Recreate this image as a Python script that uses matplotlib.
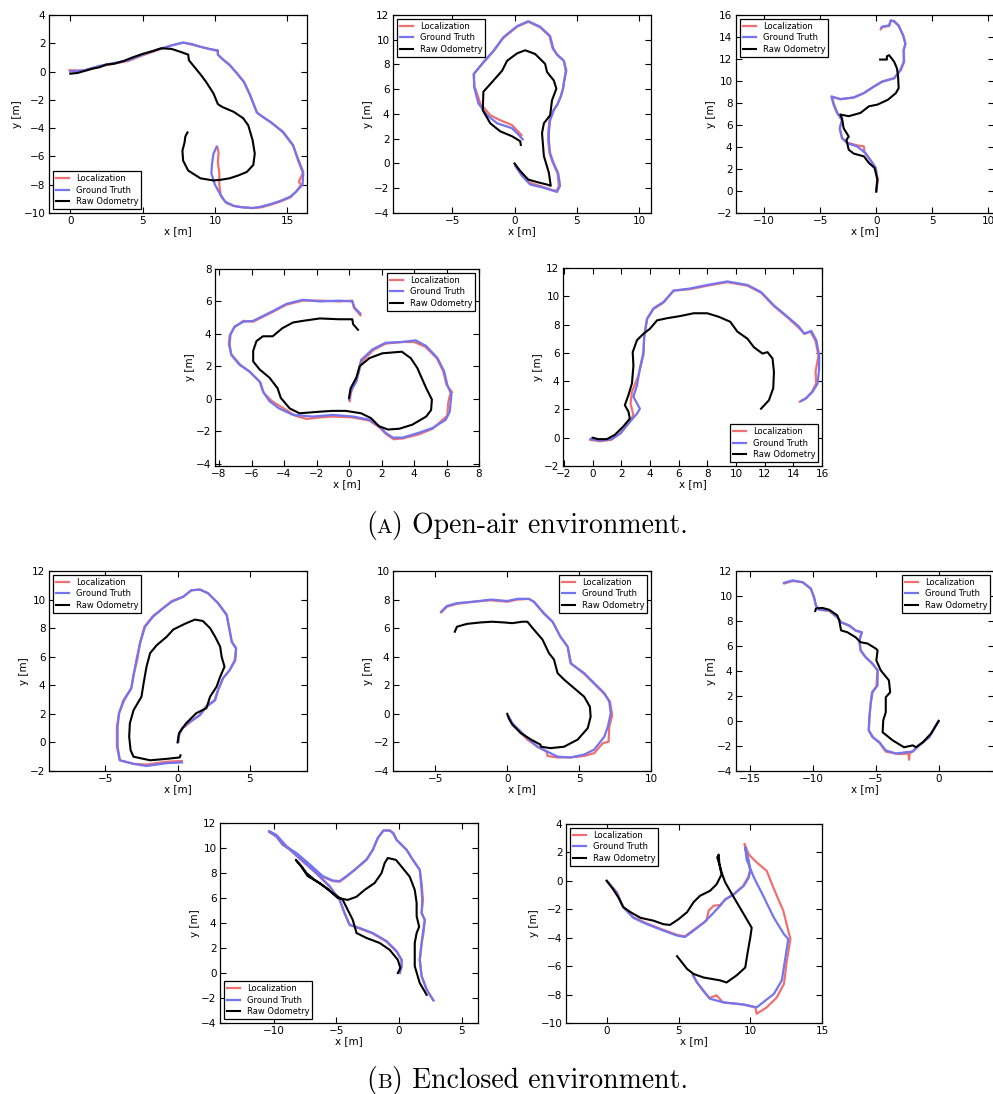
import matplotlib
matplotlib.use('Agg')
import matplotlib.pyplot as plt
import numpy as np

W, H = 993, 1094

# ---------------- data (x, y) in metres ----------------
# (A) open-air, panel 1
p1_loc = [(-0.05, 0.1), (1, 0.05), (2, 0.35), (3, 0.55), (4, 0.75), (5, 1.15), (6, 1.5), (7, 1.85), (7.8, 2.05),
          (8.4, 1.9), (9, 1.75), (9.6, 1.6), (10.2, 1.45), (10.2, 1.2), (10.5, 0.9), (11, 0.45), (11.5, -0.1),
          (12, -0.7), (12.4, -1.6), (12.9, -2.9), (13.3, -3.2), (13.9, -3.6), (14.7, -4.3), (15.4, -5.25),
          (15.8, -6.3), (16.1, -7.1), (15.8, -7.8), (15.95, -8.0), (15.6, -8.5), (15.2, -8.9), (14.5, -9.2),
          (13.9, -9.4), (13.2, -9.6), (12.6, -9.65), (11.9, -9.6), (11.3, -9.5), (10.8, -9.3), (10.4, -8.8),
          (10.3, -8.0), (10.3, -7.2), (10.2, -6.4), (10.25, -5.7), (10.15, -5.3)]
p1_gt = [(0, 0), (1, 0.1), (2, 0.4), (3, 0.6), (4, 0.8), (5, 1.2), (6, 1.55), (7, 1.85), (7.8, 2.05), (8.4, 1.95),
         (9, 1.75), (9.6, 1.6), (10.2, 1.5), (10.2, 1.2), (10.5, 0.9), (11, 0.5), (11.5, -0.1), (12, -0.75),
         (12.4, -1.6), (12.9, -2.9), (13.3, -3.2), (13.8, -3.55), (14.7, -4.25), (15.4, -5.2), (15.75, -6.3),
         (16.1, -7.2), (16.05, -8.0), (15.6, -8.5), (15.2, -8.85), (14.5, -9.15), (13.9, -9.35), (13.2, -9.55),
         (12.6, -9.65), (11.9, -9.6), (11.3, -9.5), (10.7, -9.2), (10.35, -8.65), (10.0, -8.0), (9.75, -7.2),
         (9.8, -6.5), (9.9, -5.8), (10.1, -5.35)]
p1_odo = [(0, -0.15), (0.5, -0.1), (1, 0.05), (1.5, 0.2), (2, 0.3), (2.5, 0.5), (3, 0.55), (3.7, 0.75), (4.3, 1.0),
          (5, 1.25), (5.7, 1.45), (6.3, 1.65), (7, 1.6), (7.6, 1.4), (8.15, 1.2), (8.2, 0.8), (8.6, 0.3),
          (9.0, -0.2), (9.4, -0.75), (9.9, -1.55), (10.2, -2.3), (10.5, -2.5), (11.3, -2.85), (11.95, -3.3),
          (12.3, -3.8), (12.6, -4.85), (12.75, -5.8), (12.65, -6.6), (12.2, -7.1), (11.6, -7.35), (11.0, -7.55),
          (10.4, -7.65), (9.9, -7.7), (9.0, -7.55), (8.15, -7.0), (7.8, -6.3), (7.75, -5.6), (7.9, -5.0),
          (7.95, -4.6), (8.1, -4.3)]

# panel 2
p2_loc = [(0.05, -0.1), (0.55, -0.9), (1.2, -1.55), (2.3, -1.9), (3.05, -2.15), (3.4, -2.2), (3.55, -1.8),
          (3.45, -0.8), (3.05, 0.1), (2.8, 0.85), (2.7, 1.8), (2.7, 2.5), (2.8, 3.5), (3.1, 4.3), (3.45, 4.8),
          (3.7, 5.4), (3.9, 6.1), (3.95, 6.5), (4.1, 7.5), (3.95, 8.3), (3.4, 8.8), (3.05, 9.3), (2.8, 10.3),
          (2.05, 11.0), (1.1, 11.45), (0.2, 11.05), (-0.9, 10.15), (-1.7, 9.05), (-2.5, 8.15), (-3.3, 7.2),
          (-3.2, 6.2), (-2.75, 4.85), (-1.95, 3.9), (-1.15, 3.5), (-0.2, 3.1), (0.55, 2.3)]
p2_gt = [(0.05, -0.2), (0.6, -1.0), (1.25, -1.7), (2.3, -1.95), (3.1, -2.2), (3.4, -2.3), (3.65, -1.8),
         (3.5, -0.8), (3.1, 0.1), (2.85, 0.85), (2.75, 1.8), (2.75, 2.5), (2.85, 3.5), (3.15, 4.3), (3.45, 4.8),
         (3.7, 5.4), (3.9, 6.1), (3.95, 6.5), (4.15, 7.5), (3.95, 8.3), (3.4, 8.8), (3.1, 9.3), (2.85, 10.3),
         (2.05, 11.05), (1.1, 11.5), (0.2, 11.1), (-0.9, 10.2), (-1.7, 9.1), (-2.5, 8.2), (-3.25, 7.25),
         (-3.25, 6.2), (-2.9, 4.85), (-2.2, 3.9), (-1.4, 3.25), (-0.2, 2.85), (0.35, 2.3), (0.65, 1.95)]
p2_odo = [(0, 0), (0.45, -0.6), (1.1, -1.3), (1.8, -1.5), (2.6, -1.7), (2.9, -1.8), (2.75, -0.75), (2.35, 0.6),
          (2.2, 2.45), (2.35, 3.25), (2.85, 3.9), (3.0, 5.1), (3.35, 6.05), (3.15, 6.7), (2.6, 7.4), (2.45, 8.05),
          (1.65, 8.85), (0.85, 9.15), (0.2, 8.9), (-0.6, 8.3), (-1.0, 7.5), (-1.7, 6.7), (-2.5, 5.8), (-2.55, 4.3),
          (-1.95, 3.25), (-1.15, 2.6), (-0.2, 2.2), (0.45, 1.8), (0.5, 1.5)]

# panel 3
p3_loc = [(0, -0.05), (0.15, 1.05), (-0.05, 2.1), (-0.35, 2.6), (-1.05, 3.5), (-1.1, 4.05), (-1.7, 4.15),
          (-2.6, 4.4), (-3.05, 4.85), (-3.25, 5.7), (-3.05, 6.45), (-3.45, 7.1), (-3.75, 7.85), (-3.95, 8.55),
          (-3.2, 8.35), (-2.0, 8.5), (-1.1, 8.9), (-0.2, 9.5), (0.55, 9.95), (1.6, 10.25), (2.2, 11.0),
          (2.5, 11.75), (2.45, 12.8), (2.6, 13.4), (2.4, 14.15), (2.0, 15.0), (1.6, 15.4), (1.3, 15.5),
          (1.15, 15.0), (0.55, 14.9), (0.4, 14.7)]
p3_gt = [(0, 0), (0.1, 1.05), (-0.05, 2.1), (-0.35, 2.55), (-0.95, 3.45), (-1.7, 4.05), (-2.6, 4.35),
         (-3.05, 4.8), (-3.25, 5.7), (-3.05, 6.45), (-3.5, 7.1), (-3.8, 7.85), (-4.0, 8.6), (-3.2, 8.35),
         (-2.0, 8.5), (-1.1, 8.9), (-0.2, 9.5), (0.55, 9.95), (1.6, 10.25), (2.15, 11.0), (2.45, 11.75),
         (2.45, 12.8), (2.6, 13.4), (2.4, 14.15), (2.0, 15.05), (1.6, 15.45), (1.3, 15.5), (1.15, 15.05),
         (0.55, 14.95), (0.45, 14.85)]
p3_odo = [(0, -0.05), (0.1, 1.05), (-0.15, 2.1), (-0.65, 2.55), (-1.1, 3.15), (-2.0, 3.4), (-2.45, 3.75),
          (-2.65, 4.65), (-2.45, 4.95), (-2.9, 5.7), (-3.05, 6.6), (-3.2, 6.95), (-2.45, 6.8), (-1.4, 7.1),
          (-0.65, 7.7), (0.1, 7.85), (1.05, 8.3), (1.75, 8.9), (2.0, 9.35), (1.95, 10.4), (1.85, 11.15),
          (1.6, 11.75), (1.15, 12.35), (0.95, 12.25), (0.95, 11.95), (0.35, 11.95)]

# panel 4
p4_loc = [(0.7, 5.15), (0.3, 5.6), (0.2, 6.05), (-0.6, 6.0), (-1.8, 6.05), (-2.85, 6.05), (-3.85, 5.8),
          (-4.7, 5.35), (-5.5, 4.95), (-5.9, 4.75), (-6.5, 4.8), (-7.05, 4.4), (-7.35, 3.9), (-7.4, 3.35),
          (-7.25, 2.75), (-6.7, 2.1), (-6.1, 1.65), (-5.45, 1.0), (-5.25, 0.35), (-4.75, -0.15), (-4.1, -0.55),
          (-3.3, -1.05), (-2.6, -1.25), (-1.8, -1.15), (-1.0, -1.1), (0.2, -1.15), (1.25, -1.35), (1.85, -1.75),
          (2.3, -2.2), (2.75, -2.5), (3.3, -2.45), (4.3, -2.2), (5.15, -1.85), (6.05, -1.05), (6.1, -0.3),
          (6.2, 0.2), (6.35, 0.4), (6.0, 0.85), (5.8, 1.7), (5.4, 2.5), (4.7, 3.2), (4.0, 3.5), (3.3, 3.5),
          (2.25, 3.4), (1.5, 3.0), (0.7, 2.2), (0.6, 1.6), (0.3, 0.9), (0.1, 0.3), (0.05, -0.15)]
p4_gt = [(0.7, 5.25), (0.35, 5.6), (0.2, 6.0), (-0.6, 6.05), (-1.8, 6.0), (-2.85, 6.1), (-3.85, 5.85),
         (-4.7, 5.4), (-5.5, 5.0), (-5.9, 4.8), (-6.5, 4.75), (-7.05, 4.45), (-7.3, 3.95), (-7.35, 3.35),
         (-7.25, 2.7), (-6.75, 2.1), (-6.15, 1.7), (-5.5, 1.05), (-5.3, 0.45), (-4.9, -0.15), (-4.3, -0.6),
         (-3.45, -1.0), (-2.25, -1.1), (-1.0, -1.0), (0.25, -1.1), (1.25, -1.3), (1.85, -1.7), (2.25, -2.1),
         (2.7, -2.4), (3.3, -2.4), (4.3, -2.1), (5.15, -1.8), (5.95, -1.3), (6.2, -0.8), (6.3, 0.25),
         (6.05, 0.85), (5.85, 1.7), (5.45, 2.5), (4.75, 3.25), (4.1, 3.6), (3.3, 3.5), (2.25, 3.45),
         (1.45, 3.05), (0.75, 2.4), (0.65, 1.9), (0.45, 1.05), (0.1, 0.45), (0, -0.05)]
p4_odo = [(0.55, 4.25), (0.25, 4.6), (0.2, 4.9), (-0.6, 4.9), (-1.8, 4.95), (-2.85, 4.8), (-3.45, 4.7),
          (-4.1, 4.35), (-4.7, 3.85), (-5.3, 3.85), (-5.7, 3.55), (-5.9, 2.95), (-5.9, 2.3), (-5.5, 1.8),
          (-4.9, 1.3), (-4.4, 0.65), (-4.2, 0.05), (-3.65, -0.6), (-3.05, -0.9), (-1.8, -0.8), (-1.0, -0.75),
          (-0.2, -0.75), (0.75, -0.9), (1.35, -1.2), (1.85, -1.7), (2.4, -1.9), (3.1, -1.85), (3.9, -1.6),
          (4.75, -1.1), (5.05, -0.7), (5.1, -0.05), (4.75, 0.65), (4.2, 1.9), (3.8, 2.5), (3.25, 2.9),
          (2.05, 2.8), (1.25, 2.5), (0.65, 2.0), (0.45, 1.3), (0.1, 0.65), (0, 0.05)]

# panel 5
p5_loc = [(-0.15, -0.15), (0.5, -0.25), (1.3, -0.15), (1.9, 0.3), (2.5, 1.0), (2.85, 1.6), (2.65, 2.4),
          (2.75, 3.25), (3.2, 4.4), (3.55, 5.85), (3.6, 7.1), (3.8, 8.4), (4.25, 9.1), (4.95, 9.55), (5.65, 10.4),
          (6.8, 10.5), (8.0, 10.75), (9.4, 11.0), (10.8, 10.75), (11.75, 10.25), (12.65, 9.3), (13.6, 8.5),
          (14.4, 7.75), (14.8, 7.35), (15.2, 7.5), (15.55, 6.85), (15.75, 5.8), (15.55, 4.65), (15.6, 3.85),
          (15.3, 3.25), (14.85, 2.75), (14.45, 2.55)]
p5_gt = [(-0.15, -0.1), (0.5, -0.2), (1.35, -0.1), (1.95, 0.3), (2.5, 1.0), (3.1, 1.7), (3.3, 2.05), (2.85, 2.9),
         (3.1, 3.7), (3.3, 4.9), (3.55, 6.05), (3.6, 7.15), (3.8, 8.4), (4.25, 9.15), (4.95, 9.6), (5.65, 10.4),
         (6.8, 10.55), (8.0, 10.8), (9.4, 11.05), (10.8, 10.8), (11.75, 10.3), (12.65, 9.35), (13.6, 8.55),
         (14.4, 7.85), (14.75, 7.35), (15.25, 7.55), (15.6, 6.9), (15.8, 5.85), (15.8, 4.9), (15.7, 3.85),
         (15.35, 3.25), (14.9, 2.8), (14.55, 2.6)]
p5_odo = [(0, 0), (0.4, -0.1), (1.0, -0.1), (1.55, 0.2), (2.15, 0.8), (2.6, 1.35), (2.5, 1.85), (2.25, 2.3),
          (2.5, 3.0), (2.75, 3.85), (2.85, 5.1), (2.8, 6.05), (3.1, 6.9), (3.55, 7.35), (4.0, 7.7), (4.5, 8.3),
          (5.2, 8.45), (6.1, 8.6), (7.05, 8.8), (8.0, 8.8), (8.8, 8.55), (9.6, 8.2), (10.1, 7.5), (10.8, 7.0),
          (11.25, 6.4), (11.85, 5.95), (12.2, 6.05), (12.55, 5.6), (12.65, 4.65), (12.6, 3.5), (12.3, 2.65),
          (11.75, 2.05)]

# (B) enclosed, panel 6
p6_loc = [(0.3, -1.3), (-0.75, -1.35), (-2.1, -1.55), (-3.05, -1.5), (-4.0, -1.25), (-4.2, -0.3), (-4.2, 1.1),
          (-4.05, 2.05), (-3.75, 2.95), (-3.2, 3.8), (-3.05, 4.7), (-2.8, 5.75), (-2.6, 6.95), (-2.3, 8.1),
          (-1.7, 8.85), (-1.0, 9.4), (-0.4, 9.9), (0.4, 10.2), (0.95, 10.65), (1.55, 10.7), (2.1, 10.45),
          (2.8, 9.75), (3.4, 8.9), (3.6, 7.9), (3.75, 7.05), (4.05, 6.55), (3.95, 5.75), (3.6, 5.05),
          (3.15, 4.5), (2.8, 3.65), (2.55, 2.95), (1.95, 2.5), (1.5, 1.9), (0.85, 1.4), (0.3, 0.95),
          (0.1, 0.5), (0.05, 0.05)]
p6_gt = [(0.3, -1.4), (-0.75, -1.45), (-2.15, -1.65), (-3.05, -1.5), (-4.0, -1.25), (-4.15, -0.3), (-4.15, 1.1),
         (-4.05, 2.05), (-3.7, 2.95), (-3.2, 3.8), (-3.05, 4.7), (-2.85, 5.75), (-2.6, 6.95), (-2.25, 8.1),
         (-1.7, 8.8), (-1.0, 9.4), (-0.4, 9.85), (0.4, 10.2), (0.95, 10.65), (1.55, 10.7), (2.1, 10.45),
         (2.8, 9.75), (3.4, 8.95), (3.6, 7.85), (3.75, 7.05), (4.05, 6.6), (4.0, 5.75), (3.6, 5.05), (3.15, 4.5),
         (2.8, 3.65), (2.6, 2.95), (2.0, 2.5), (1.55, 1.9), (0.85, 1.45), (0.3, 1.0), (0.1, 0.5), (0.05, 0.05)]
p6_odo = [(0, 0), (0.1, 0.65), (0.6, 1.35), (1.3, 2.05), (2.0, 2.4), (2.25, 3.2), (2.7, 3.9), (2.95, 4.6),
          (3.25, 5.3), (3.05, 6.0), (2.95, 6.7), (2.6, 7.4), (2.25, 8.0), (1.75, 8.5), (1.2, 8.6), (0.5, 8.3),
          (-0.3, 7.9), (-0.75, 7.4), (-1.45, 6.8), (-1.9, 6.25), (-2.15, 5.3), (-2.35, 4.15), (-2.5, 3.2),
          (-3.05, 2.25), (-3.3, 1.35), (-3.35, 0.4), (-3.25, -0.55), (-3.05, -1.0), (-1.9, -1.25), (-0.75, -1.15),
          (0.15, -1.05), (0.2, -0.9)]

# panel 7
p7_loc = [(-4.6, 7.1), (-4.2, 7.5), (-3.5, 7.7), (-2.35, 7.85), (-1.15, 7.95), (0, 7.85), (0.7, 8.0), (1.5, 8.05),
          (1.85, 7.85), (2.55, 7.0), (3.15, 6.45), (3.7, 5.4), (4.2, 4.7), (4.45, 3.5), (5.35, 2.8), (6.05, 2.1),
          (6.75, 1.4), (7.15, 0.85), (7.3, -0.1), (7.1, -0.9), (7.05, -1.95), (6.65, -2.05), (6.05, -2.75),
          (5.35, -2.95), (4.4, -3.05), (3.5, -3.05), (2.8, -2.95), (2.75, -2.65), (2.1, -2.3), (1.4, -1.8),
          (0.8, -1.2), (0.35, -0.7), (0.1, -0.2)]
p7_gt = [(-4.6, 7.15), (-4.2, 7.55), (-3.5, 7.75), (-2.35, 7.85), (-1.15, 8.0), (0, 7.9), (0.7, 8.05),
         (1.5, 8.05), (1.85, 7.85), (2.55, 7.05), (3.15, 6.45), (3.7, 5.4), (4.2, 4.7), (4.4, 3.55), (5.35, 2.85),
         (6.05, 2.15), (6.75, 1.45), (7.1, 0.85), (7.2, 0.05), (7.0, -0.9), (6.75, -1.6), (6.05, -2.5),
         (5.35, -2.85), (4.4, -3.05), (3.5, -3.0), (2.8, -2.65), (2.1, -2.3), (1.4, -1.7), (0.8, -1.1),
         (0.35, -0.65), (0.1, -0.2)]
p7_odo = [(-3.65, 5.75), (-3.5, 6.1), (-2.8, 6.3), (-1.85, 6.4), (-1.05, 6.45), (-0.25, 6.4), (0.35, 6.35),
          (1.05, 6.45), (1.4, 6.45), (1.85, 5.9), (2.45, 5.2), (2.9, 4.25), (3.25, 3.8), (3.5, 2.85), (3.95, 2.4),
          (4.65, 1.8), (5.35, 1.2), (5.75, 0.5), (5.8, -0.2), (5.6, -1.0), (4.9, -1.8), (3.95, -2.3), (3.0, -2.4),
          (2.35, -2.3), (2.3, -2.15), (1.65, -1.8), (0.95, -1.35), (0.35, -0.75), (0.1, -0.3), (0, 0)]

# panel 8
p8_loc = [(-12.25, 11.0), (-11.6, 11.2), (-10.8, 11.1), (-10.15, 10.55), (-9.9, 9.9), (-9.75, 9.2), (-9.45, 8.9),
          (-8.7, 8.8), (-8.0, 8.25), (-7.75, 7.9), (-7.1, 7.6), (-6.55, 7.2), (-6.1, 7.1), (-6.3, 6.45),
          (-6.2, 5.65), (-5.8, 5.1), (-5.25, 4.55), (-4.85, 4.05), (-4.95, 2.75), (-5.3, 2.3), (-5.4, 1.4),
          (-5.5, 0.3), (-5.55, -0.75), (-5.2, -1.3), (-4.7, -1.75), (-4.2, -2.45), (-3.15, -2.65), (-2.4, -2.6),
          (-2.35, -3.1), (-2.3, -2.6), (-2.05, -2.4), (-1.55, -1.95), (-0.75, -1.3), (-0.35, -0.6), (0, 0)]
p8_gt = [(-12.3, 11.05), (-11.6, 11.25), (-10.8, 11.1), (-10.15, 10.6), (-9.9, 9.9), (-9.75, 9.25), (-9.5, 8.9),
         (-8.7, 8.85), (-8.05, 8.3), (-7.75, 7.9), (-7.1, 7.65), (-6.6, 7.25), (-6.1, 7.1), (-6.3, 6.45),
         (-6.2, 5.65), (-5.8, 5.1), (-5.25, 4.6), (-4.85, 4.05), (-4.85, 2.85), (-5.25, 2.3), (-5.4, 1.4),
         (-5.5, 0.3), (-5.55, -0.75), (-5.25, -1.3), (-4.7, -1.7), (-4.2, -2.35), (-3.4, -2.6), (-2.6, -2.5),
         (-2.05, -2.45), (-1.55, -1.95), (-0.75, -1.3), (-0.35, -0.6), (0, 0)]
p8_odo = [(-9.8, 8.8), (-9.75, 9.0), (-9.25, 9.05), (-8.7, 8.9), (-8.05, 8.45), (-7.9, 8.05), (-7.75, 7.25),
          (-7.25, 7.1), (-6.6, 6.7), (-6.2, 6.3), (-5.65, 6.2), (-5.0, 5.8), (-4.85, 5.65), (-4.95, 4.85),
          (-4.6, 4.05), (-3.95, 3.25), (-3.85, 2.3), (-4.2, 1.9), (-4.2, 0.7), (-4.4, 0.05), (-4.45, -0.9),
          (-3.65, -1.55), (-2.75, -2.1), (-2.05, -1.95), (-1.8, -2.1), (-1.25, -1.7), (-0.6, -1.0), (0, 0)]

# panel 9
p9_loc = [(2.7, -2.15), (2.2, -1.3), (1.8, -0.25), (1.65, 1.05), (1.8, 2.4), (1.95, 3.2), (2.05, 4.25),
          (1.8, 4.8), (1.9, 5.85), (1.8, 7.2), (1.65, 8.25), (1.1, 9.05), (0.6, 9.85), (-0.2, 10.65),
          (-0.45, 11.2), (-0.75, 11.4), (-1.25, 11.4), (-1.7, 10.8), (-2.1, 9.85), (-2.6, 9.1), (-3.55, 8.25),
          (-4.2, 7.7), (-4.75, 7.3), (-5.3, 7.35), (-6.1, 7.7), (-7.15, 8.65), (-8.2, 9.55), (-9.3, 10.25),
          (-9.8, 10.9), (-10.4, 11.3), (-9.8, 11.0), (-9.0, 10.1), (-7.95, 9.15), (-6.6, 7.95), (-5.55, 6.9),
          (-4.75, 5.85), (-4.35, 4.75), (-3.95, 3.85), (-3.15, 3.55), (-2.1, 3.15), (-1.0, 2.5), (-0.2, 1.7),
          (0.2, 1.05), (0.2, 0.5), (0.05, 0)]
p9_gt = [(2.75, -2.2), (2.2, -1.35), (1.8, -0.25), (1.65, 1.05), (1.8, 2.4), (1.9, 3.2), (2.05, 4.25),
         (1.8, 4.8), (1.85, 5.85), (1.75, 7.2), (1.65, 8.25), (1.1, 9.05), (0.6, 9.85), (-0.2, 10.65),
         (-0.5, 11.2), (-0.75, 11.4), (-1.25, 11.4), (-1.7, 10.8), (-2.1, 9.85), (-2.6, 9.05), (-3.55, 8.25),
         (-4.2, 7.75), (-4.75, 7.35), (-5.3, 7.4), (-6.1, 7.75), (-7.15, 8.7), (-8.2, 9.6), (-9.3, 10.3),
         (-9.8, 10.95), (-10.4, 11.35), (-9.8, 11.05), (-9.0, 10.15), (-7.95, 9.2), (-6.6, 8.0), (-5.55, 6.95),
         (-4.75, 5.85), (-4.35, 4.8), (-3.95, 3.85), (-3.15, 3.6), (-2.1, 3.2), (-1.0, 2.55), (-0.2, 1.75),
         (0.2, 1.05), (0.2, 0.55), (0.05, 0)]
p9_odo = [(-0.1, 0), (0.1, 0.4), (-0.1, 1.05), (-0.75, 1.85), (-1.55, 2.4), (-2.6, 2.8), (-3.4, 3.2),
          (-3.7, 4.25), (-4.1, 5.05), (-4.5, 5.85), (-5.3, 6.4), (-6.35, 7.2), (-7.3, 7.75), (-7.8, 8.5),
          (-8.25, 9.05), (-7.8, 8.55), (-7.4, 8.0), (-6.75, 7.45), (-5.8, 6.8), (-4.9, 6.0), (-4.1, 5.85),
          (-3.4, 6.1), (-2.75, 6.65), (-1.95, 7.2), (-1.4, 8.0), (-1.15, 8.8), (-0.9, 9.2), (-0.25, 9.05),
          (0.2, 8.5), (0.85, 7.7), (1.25, 6.65), (1.4, 5.6), (1.4, 4.55), (1.6, 3.7), (1.4, 3.2), (1.25, 2.4),
          (1.25, 0.55), (1.65, -0.8), (2.2, -1.75)]

# panel 10
p10_loc = [(0, 0), (0.7, -0.8), (1.15, -1.85), (1.85, -2.55), (2.8, -3.0), (3.95, -3.45), (4.9, -3.8),
           (5.45, -3.9), (6.05, -3.45), (6.75, -2.95), (6.95, -2.8), (7.1, -2.1), (7.45, -1.75), (7.9, -1.7),
           (8.3, -1.3), (8.85, -0.95), (9.5, -0.35), (9.85, 0.25), (10.0, 0.8), (9.85, 1.45), (9.65, 2.35),
           (9.6, 2.6), (9.9, 1.85), (10.45, 1.3), (11.15, 0.7), (11.6, -0.45), (12.0, -1.4), (12.3, -2.1),
           (12.8, -4.1), (12.55, -5.6), (12.35, -7.25), (11.85, -8.2), (11.15, -8.9), (10.45, -9.35),
           (10.35, -8.9), (9.5, -8.7), (8.1, -8.55), (7.65, -8.05), (7.15, -8.25), (6.7, -7.7), (6.25, -7.1),
           (6.0, -6.55)]
p10_gt = [(0, 0), (0.7, -0.82), (1.15, -1.85), (1.85, -2.6), (2.8, -3.05), (3.95, -3.5), (4.9, -3.85),
          (5.45, -3.95), (6.05, -3.5), (6.75, -2.95), (7.35, -2.35), (7.9, -1.75), (8.25, -1.3), (8.85, -0.95),
          (9.55, -0.35), (9.9, 0.25), (10.0, 0.7), (9.9, 1.4), (9.7, 2.1), (9.65, 2.35), (9.75, 1.5),
          (10.25, 0.25), (10.95, -1.15), (11.65, -2.6), (12.35, -3.75), (12.65, -4.1), (12.45, -5.4),
          (12.2, -7.0), (11.65, -7.95), (10.45, -8.9), (9.55, -8.7), (8.15, -8.55), (7.2, -8.3), (6.75, -7.75),
          (6.3, -7.15), (6.0, -6.65)]
p10_odo = [(0, 0), (0.45, -0.6), (0.8, -1.15), (1.15, -1.85), (1.65, -2.2), (2.35, -2.6), (3.25, -2.8),
           (3.95, -3.05), (4.4, -3.1), (5.0, -2.7), (5.6, -2.2), (6.05, -1.5), (6.5, -1.05), (7.2, -0.7),
           (7.65, -0.25), (8.0, 0.45), (7.85, 1.15), (7.7, 1.65), (7.8, 1.85), (7.85, 1.2), (8.0, 0.6),
           (8.25, -0.1), (8.85, -1.15), (9.55, -2.35), (10.1, -3.3), (10.0, -4.0), (9.8, -5.15), (9.65, -6.1),
           (9.05, -6.65), (8.35, -7.15), (7.9, -7.0), (6.75, -6.8), (6.05, -6.55), (5.6, -6.2), (5.25, -5.75),
           (4.9, -5.3)]

# ---------------- layout: pixel boxes (left, top, right, bottom) ----------------
panels = [
    (p1_loc, p1_gt, p1_odo, (49, 15, 307, 213), (-1.47, 16.36), (-10, 4), [0, 5, 10, 15], range(-10, 5, 2), 'lower left'),
    (p2_loc, p2_gt, p2_odo, (393, 15, 651, 213), (-9.75, 10.94), (-4, 12), [-5, 0, 5, 10], range(-4, 13, 2), 'upper left'),
    (p3_loc, p3_gt, p3_odo, (736, 15, 994, 213), (-12.5, 10.5), (-2, 16), [-10, -5, 0, 5, 10], range(-2, 17, 2), 'upper left'),
    (p4_loc, p4_gt, p4_odo, (215, 269, 479, 466), (-8.25, 8.0), (-4.15, 8), range(-8, 9, 2), range(-4, 9, 2), 'upper right'),
    (p5_loc, p5_gt, p5_odo, (563, 268, 822, 466), (-2.06, 16), (-2, 12), range(-2, 17, 2), range(-2, 13, 2), 'lower right'),
    (p6_loc, p6_gt, p6_odo, (49, 571, 307, 771), (-8.9, 8.96), (-2, 12), [-5, 0, 5], range(-2, 13, 2), 'upper left'),
    (p7_loc, p7_gt, p7_odo, (393, 571, 651, 771), (-7.95, 10), (-4, 10), [-5, 0, 5, 10], range(-4, 11, 2), 'upper right'),
    (p8_loc, p8_gt, p8_odo, (736, 571, 994, 771), (-16.1, 4.4), (-4, 12), [-15, -10, -5, 0], range(-4, 13, 2), 'upper right'),
    (p9_loc, p9_gt, p9_odo, (220, 823, 478, 1023), (-14.3, 6.3), (-4, 12), [-10, -5, 0, 5], range(-4, 13, 2), 'lower left'),
    (p10_loc, p10_gt, p10_odo, (566, 824, 822, 1023), (-2.84, 15.0), (-10, 4), [0, 5, 10, 15], range(-10, 5, 2), 'upper left'),
]

fig = plt.figure(figsize=(W / 100, H / 100), dpi=100)

for loc, gt, odo, box, xl, yl, xt, yt, lpos in panels:
    l, t, r, b = box
    ax = fig.add_axes([l / W, 1 - b / H, (r - l) / W, (b - t) / H])
    lx, ly = zip(*loc)
    gx, gy = zip(*gt)
    ox, oy = zip(*odo)
    ax.plot(lx, ly, color='#ef7070', lw=1.6, label='Localization')
    ax.plot(gx, gy, color='#7474ee', lw=1.6, label='Ground Truth')
    ax.plot(ox, oy, color='k', lw=1.5, label='Raw Odometry')
    ax.set_xlim(*xl)
    ax.set_ylim(*yl)
    ax.set_xticks(list(xt))
    ax.set_yticks(list(yt))
    ax.tick_params(direction='in', top=True, right=True, length=4, width=0.8, labelsize=7.5, pad=2.5)
    for s in ax.spines.values():
        s.set_linewidth(0.9)
    ax.set_xlabel('x [m]', fontsize=7.5, labelpad=0)
    ax.set_ylabel('y [m]', fontsize=7.5, labelpad=1)
    leg = ax.legend(loc=lpos, fontsize=6, fancybox=False, framealpha=1, edgecolor='k',
                    handlelength=1.6, handletextpad=0.8, borderpad=0.35, labelspacing=0.3,
                    borderaxespad=0.45)
    leg.get_frame().set_linewidth(0.9)


def caption(yfig, letter, rest):
    # "(A) Open-air environment." with a small-caps letter
    renderer = fig.canvas.get_renderer()
    kw = dict(family='cmr10', va='baseline', ha='left')
    parts = [('(', 20), (letter, 15), (') ' + rest, 20)]
    texts = [fig.text(0, yfig, s, fontsize=fs, **kw) for s, fs in parts]
    widths = [t.get_window_extent(renderer).width for t in texts]
    x = (2 * 527 - sum(widths)) / 2 / W
    for t, w in zip(texts, widths):
        t.set_x(x)
        x += w / W


caption(1 - 533 / H, 'A', 'Open-air environment.')
caption(1 - 1088 / H, 'B', 'Enclosed environment.')

fig.savefig('out.png', dpi=100)
